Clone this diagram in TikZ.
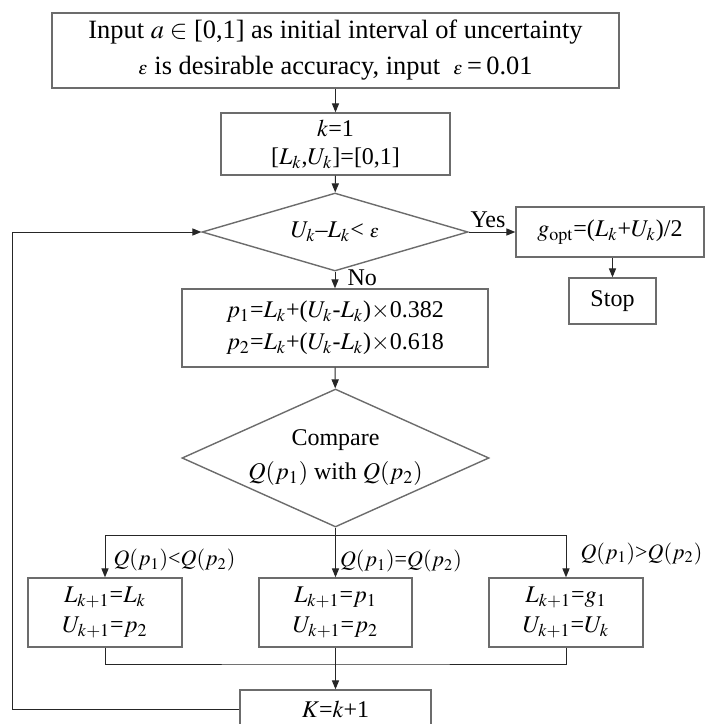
\documentclass[tikz,border=0pt]{standalone}
\usepackage{mathptmx}
\usepackage[no-math]{fontspec}
\setmainfont{Liberation Serif}
\usetikzlibrary{shapes.geometric,arrows.meta}

\tikzset{
  box/.style={draw=gray!85!black, line width=0.7pt, fill=white, align=center,
    inner sep=2pt, font=\fontsize{12}{15}\selectfont},
  decision/.style={box, diamond, inner sep=0pt},
  arrow/.style={draw=black!85, line width=0.5pt, -{Triangle[length=4.5pt,width=3.6pt]}},
  line/.style={draw=black!85, line width=0.5pt},
  cond/.style={font=\fontsize{11}{13}\selectfont, inner sep=1pt}
}

\begin{document}
\begin{tikzpicture}[x=0.5pt,y=-0.5pt]
\useasboundingbox (0,0) rectangle (705,724);
\clip (0,0) rectangle (705,724);

% main column
\node[box, minimum width=283.5pt, minimum height=37.5pt,
      font=\fontsize{13.2}{18}\selectfont] (input) at (335.5,50.5)
  {Input $a\in$ [0,1] as initial interval of uncertainty\\
   {\small$\varepsilon$} is desirable accuracy, input \ {\small$\varepsilon$}\,=\,0.01};
\node[box, minimum width=114.5pt, minimum height=31pt, font=\fontsize{12}{14}\selectfont] (init) at (335.5,144)
  {$k$=1\\{}[$L_k$,$U_k$]=[0,1]};
\node[decision, minimum width=133pt, minimum height=39pt, aspect=3.4] (check) at (335,232)
  {$U_k$--$L_k$< {\small$\varepsilon$}};
\node[box, minimum width=94pt, minimum height=25pt] (gopt) at (610,232)
  {$g_{\mathrm{opt}}$=($L_k$+$U_k$)/2};
\node[box, minimum width=43.5pt, minimum height=23pt] (stop) at (612.5,301) {Stop};
\node[box, minimum width=153pt, minimum height=39pt, font=\fontsize{12}{16}\selectfont] (golden) at (335,328)
  {$p_1$=$L_k$+($U_k$-$L_k$)$\times$0.382\\ $p_2$=$L_k$+($U_k$-$L_k$)$\times$0.618};
\node[decision, minimum width=153.5pt, minimum height=69pt, aspect=2.2,
      font=\fontsize{12}{17}\selectfont] (compare) at (335.5,458)
  {Compare\\ $Q(p_1)$ with $Q(p_2)$};

% three cases
\node[box, minimum width=77pt, minimum height=34.5pt] (lo) at (105,612.5)
  {$L_{k+1}$=$L_k$\\ $U_{k+1}$=$p_2$};
\node[box, minimum width=76.5pt, minimum height=34.5pt] (eq) at (335.5,612.5)
  {$L_{k+1}$=$p_1$\\ $U_{k+1}$=$p_2$};
\node[box, minimum width=77pt, minimum height=34.5pt] (hi) at (566,612.5)
  {$L_{k+1}$=$g_1$\\ $U_{k+1}$=$U_k$};
\node[box, minimum width=95.5pt, minimum height=19pt] (next) at (335.5,709) {$K$=$k$+1};

\coordinate (split) at (335.5,535);
\coordinate (join) at (335.5,664);

\draw[arrow] (input) -- (init);
\draw[arrow] (init) -- (check);
\draw[arrow] (check) -- node[above, cond, font=\fontsize{12}{14}\selectfont, yshift=1pt, xshift=-2pt] {Yes} (gopt);
\draw[arrow] (gopt.south -| stop) -- (stop);
\draw[arrow] (check) -- node[right, cond, font=\fontsize{12}{14}\selectfont, xshift=5pt, yshift=1pt] {No} (golden);
\draw[arrow] (golden) -- (compare);

% branches
\draw[line] (compare) -- (split);
\draw[arrow] (split) -| node[pos=0.8, right, cond, xshift=3pt] {$Q(p_1)$<$Q(p_2)$} (lo);
\draw[arrow] (split) -- node[pos=0.62, right, cond, xshift=1pt] {$Q(p_1)$=$Q(p_2)$} (eq);
\draw[arrow] (split) -| node[pos=0.72, right, cond, xshift=6pt] {$Q(p_1)$>$Q(p_2)$} (hi);

% merge and loop back
\draw[line] (lo) |- (join) -| (hi);
\draw[arrow] (eq) -- (next);
\draw[arrow] (next.west) -- ++(-227,0) |- (check);
\end{tikzpicture}
\end{document}
